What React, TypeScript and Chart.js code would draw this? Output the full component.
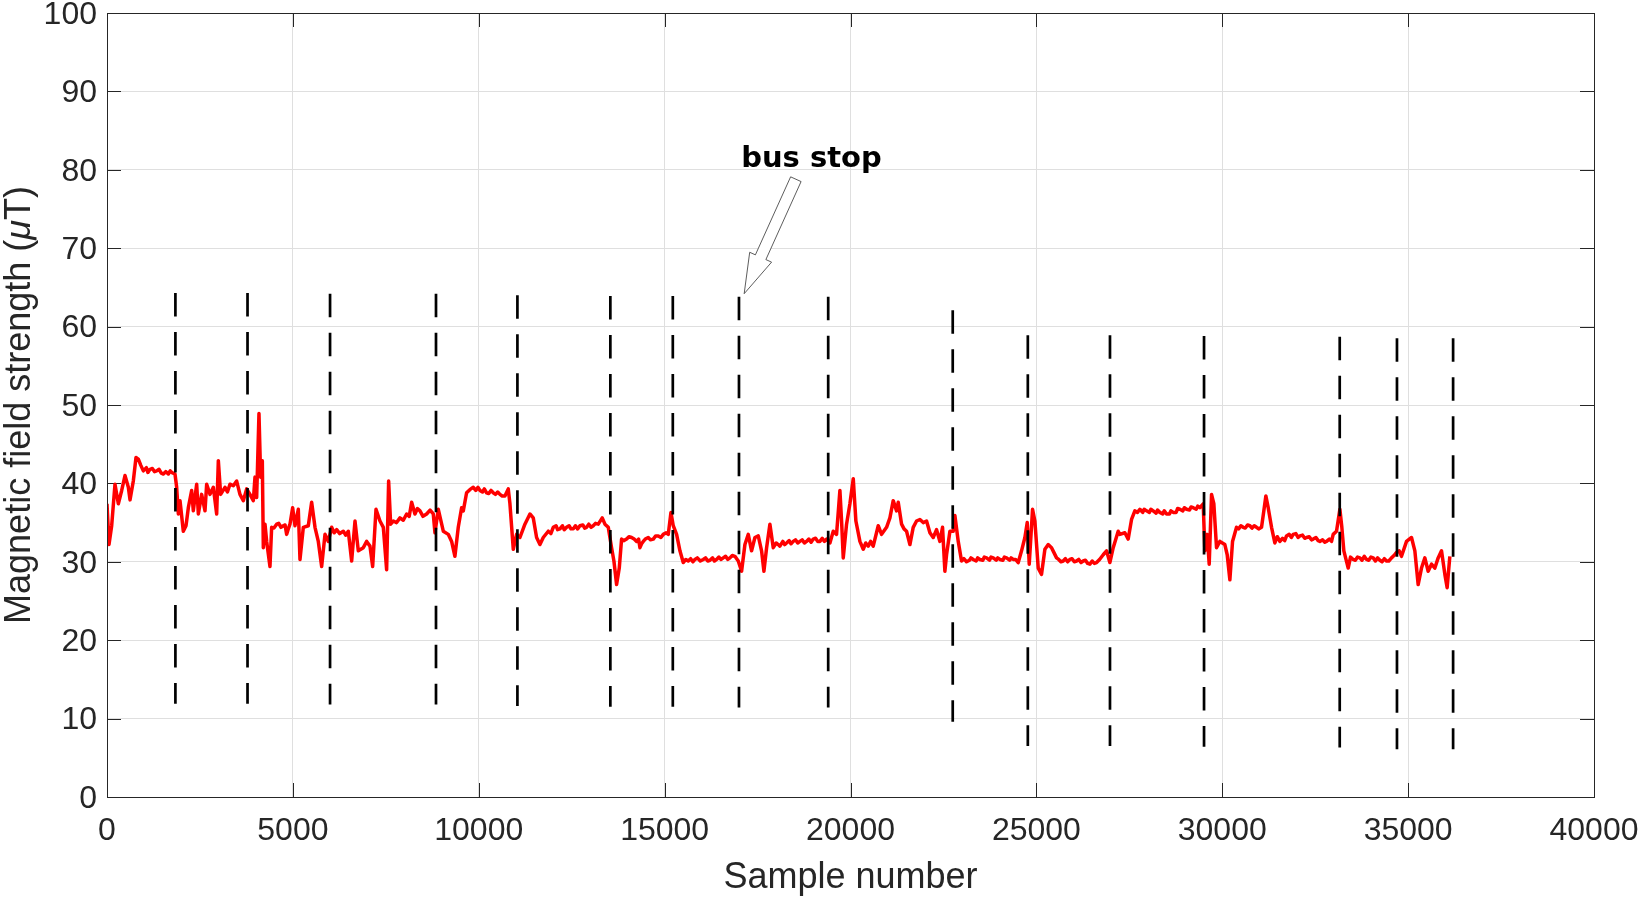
import React, { useEffect, useRef } from "react";
import { Chart, registerables } from "chart.js";

Chart.register(...registerables);

// ---- data ----
const sampleIdx: number[] = [
  0, 54, 126, 215, 305, 395, 484, 574, 619, 708, 780, 843, 910, 977, 1060, 1100, 1157, 1220, 1280, 1336, 1400, 1460, 1515, 1580, 1650, 1700, 1739, 1780, 1829,
  1874, 1919, 1964, 2053, 2125, 2188, 2277, 2322, 2412, 2457, 2546, 2636, 2681, 2771, 2860, 2950, 2995, 3057, 3174, 3240, 3308, 3398, 3488, 3577, 3667, 3757, 3846, 3936, 3981, 4026, 4088, 4133, 4178, 4205, 4250, 4295, 4384, 4429,
  4490, 4564, 4620, 4680, 4743, 4790, 4833, 4870, 4922, 4994, 5057, 5146, 5191, 5281, 5415, 5505, 5595, 5684, 5774, 5864, 5953, 6043, 6110, 6178, 6260, 6357, 6420, 6491, 6581, 6671, 6760, 6895, 6985, 7074, 7146, 7236, 7343, 7433, 7522, 7576, 7630, 7702, 7790, 7881, 7970, 8060, 8130, 8195, 8284, 8350, 8419, 8500, 8598, 8690, 8777, 8822, 8912,
  9046, 9180, 9270, 9359, 9449, 9539, 9584, 9673, 9760, 9853, 9920, 9980, 10032, 10100, 10150, 10211, 10270, 10330, 10391, 10450, 10510, 10570, 10630, 10704, 10794, 10839, 10929, 11018, 11108, 11242, 11377, 11466, 11556, 11646, 11735, 11870, 11940, 12004, 12080, 12120, 12184, 12250, 12300, 12363, 12430, 12480, 12542, 12600, 12660, 12722, 12800, 12850, 12901, 12960, 13020, 13080, 13140, 13215, 13322, 13394, 13484, 13573, 13636, 13708, 13780, 13842,
  13900, 13977, 14040, 14111, 14180, 14246, 14300, 14336, 14380, 14425, 14480, 14560, 14620, 14694, 14760, 14829, 14900, 14963, 15040, 15098, 15170, 15232, 15322, 15412, 15501, 15570, 15636, 15700, 15760, 15815, 15880, 15960, 16039, 16100, 16160, 16218, 16290, 16340, 16398, 16460, 16520, 16577, 16640, 16700, 16757, 16820, 16891, 16981, 17070, 17160, 17250, 17339, 17429, 17519, 17608, 17671, 17743, 17832, 17922, 18000, 18056,
  18101, 18180, 18230, 18280, 18350, 18400, 18460, 18520, 18580, 18639, 18700, 18760, 18818, 18880, 18940, 18998, 19060, 19120, 19177, 19240, 19300, 19356, 19446, 19536, 19625, 19715, 19760, 19805, 19894, 19984, 20074, 20145, 20253, 20343, 20410, 20477, 20540, 20611, 20746, 20836, 20970, 21060, 21149, 21239, 21284, 21374, 21440, 21508, 21598, 21687, 21777, 21867, 21956, 22046, 22136, 22225, 22315, 22405, 22476, 22539, 22584, 22674, 22763, 22808, 22898, 22987,
  23050, 23122, 23200, 23240, 23301, 23380, 23420, 23481, 23560, 23600, 23660, 23740, 23780, 23839, 23920, 23960, 24019, 24100, 24140, 24198, 24280, 24320, 24377, 24440, 24512, 24601, 24691, 24754, 24808, 24897, 24960, 25050, 25139, 25229, 25319, 25408, 25470, 25543, 25600, 25660, 25722, 25780, 25840, 25901, 25960, 26020, 26081, 26140, 26200, 26260, 26320, 26380, 26439, 26500, 26560, 26619, 26700, 26798, 26888, 26977, 27067, 27201,
  27246, 27380, 27470, 27560, 27649, 27720, 27784, 27860, 27900, 27963, 28040, 28080, 28143, 28220, 28260, 28322, 28400, 28440, 28501, 28580, 28620, 28681, 28760, 28800, 28860, 28940, 28980, 29039, 29120, 29160, 29219, 29300, 29340, 29398, 29488, 29532, 29595, 29649, 29712, 29774, 29846, 29936, 30070, 30133, 30205, 30277, 30384, 30440, 30500, 30563, 30620, 30680, 30743, 30800, 30860, 30922, 30980, 31057, 31119, 31173, 31236, 31326, 31415, 31480, 31550, 31620, 31680, 31729, 31800, 31860, 31908, 31980, 32040, 32088, 32160, 32220, 32267, 32340, 32400, 32446, 32520, 32580, 32626, 32700, 32760, 32805, 32880, 32940, 32984, 33074, 33164, 33217, 33271, 33388, 33450, 33522, 33580, 33640, 33702, 33760, 33820, 33881, 33940, 34000, 34060, 34120, 34180, 34240, 34300, 34360, 34419, 34480, 34553, 34620, 34688, 34760, 34822, 34957, 35091, 35181, 35270, 35360, 35450, 35539, 35629, 35719, 35808, 35898, 35988, 36050, 36122,
];

const fieldStrength: number[] = [
  37.4, 32.2, 34.6, 39.9, 37.4, 39.1, 41.0, 39.5, 37.9, 40.3, 43.3, 43.1, 42.3, 41.6, 42.0, 41.4, 41.8, 41.9, 41.5, 41.6, 41.8, 41.3, 41.2, 41.5, 41.2, 41.6, 41.4, 41.3, 41.2,
  39.5, 36.1, 37.8, 33.9, 34.6, 36.9, 39.1, 36.5, 39.9, 36.1, 38.6, 36.5, 39.9, 38.6, 39.5, 36.1, 42.9, 38.6, 39.5, 38.9, 39.9, 39.7, 40.3, 38.6, 37.8, 39.3, 38.6, 37.8, 40.8, 38.2, 48.9, 40.8, 42.9, 31.8, 34.8, 32.6, 29.4, 34.4,
  34.3, 34.8, 34.9, 34.4, 34.6, 34.7, 33.5, 34.1, 34.8, 36.9, 34.6, 36.7, 30.3, 34.4, 34.6, 37.6, 34.4, 32.6, 29.4, 33.5, 32.6, 34.4, 33.7, 34.1, 33.6, 33.9, 33.4, 33.9, 30.1, 35.2, 31.4, 31.8, 32.6, 32.0, 29.4, 36.7, 35.2, 34.4, 29.0, 40.3, 34.8, 35.2, 35.0, 35.6, 35.3, 36.1, 35.8, 37.6, 36.1, 36.8, 36.5, 35.8, 36.1, 36.6, 36.1, 33.7, 36.7,
  33.9, 33.5, 32.6, 30.7, 34.4, 36.9, 36.5, 38.8, 39.2, 39.5, 39.1, 39.5, 39.1, 38.9, 39.3, 38.8, 38.7, 39.1, 38.8, 38.6, 38.9, 38.6, 38.4, 38.4, 39.3, 37.4, 31.6, 33.5, 33.1, 34.8, 36.1, 35.6, 33.1, 32.2, 33.1, 33.9, 33.6, 34.4, 34.6, 34.1, 34.2, 34.6, 34.1, 34.4, 34.6, 34.2, 34.2, 34.6, 34.2, 34.6, 34.7, 34.3, 34.4, 34.8, 34.4, 34.6, 34.9, 34.8, 35.6, 34.8, 34.4, 31.8, 30.1, 27.1, 29.2, 32.9,
  32.7, 32.9, 33.2, 33.1, 32.9, 32.6, 32.9, 31.8, 32.3, 32.6, 32.9, 33.1, 32.8, 32.9, 33.3, 33.3, 33.1, 33.5, 33.7, 33.5, 36.3, 34.6, 33.5, 31.4, 29.9, 30.3, 30.1, 30.4, 30.0, 30.3, 30.5, 30.1, 30.3, 30.5, 30.1, 30.2, 30.5, 30.1, 30.3, 30.6, 30.3, 30.5, 30.7, 30.3, 30.5, 30.8, 30.7, 30.1, 28.8, 32.2, 33.5, 31.4, 33.1, 33.3, 31.4, 28.8, 31.8, 34.8, 31.8, 32.4, 32.2,
  32.0, 32.6, 32.2, 32.4, 32.7, 32.3, 32.6, 32.8, 32.4, 32.6, 32.8, 32.4, 32.6, 32.9, 32.5, 32.9, 33.0, 32.6, 32.6, 33.0, 32.6, 32.9, 32.4, 33.9, 33.5, 39.1, 35.2, 30.5, 34.8, 37.4, 40.6, 35.2, 32.6, 31.6, 32.4, 32.0, 32.6, 32.0, 34.6, 33.5, 34.4, 35.6, 37.8, 36.5, 37.6, 34.8, 34.2, 33.9, 32.2, 34.4, 35.2, 35.4, 35.0, 35.2, 33.7, 33.1, 34.1, 32.6, 34.4, 28.8, 30.9, 33.9, 33.9, 35.9, 32.6, 30.1,
  30.4, 30.0, 30.2, 30.5, 30.3, 30.1, 30.5, 30.3, 30.2, 30.6, 30.5, 30.2, 30.6, 30.5, 30.2, 30.5, 30.3, 30.2, 30.6, 30.5, 30.2, 30.5, 30.3, 30.3, 29.9, 31.4, 33.1, 35.0, 29.7, 36.7, 35.2, 29.2, 28.4, 31.6, 32.2, 31.8, 31.2, 30.5, 30.3, 30.0, 30.1, 30.4, 30.0, 30.3, 30.4, 30.0, 30.1, 30.3, 29.9, 30.1, 30.2, 29.8, 29.7, 30.1, 29.8, 29.9, 30.3, 30.9, 31.4, 29.9, 31.8, 33.9,
  33.5, 33.7, 32.9, 35.4, 36.5, 36.3, 36.7, 36.3, 36.7, 36.5, 36.3, 36.7, 36.5, 36.2, 36.6, 36.3, 36.1, 36.5, 36.1, 36.1, 36.5, 36.3, 36.3, 36.8, 36.7, 36.5, 36.9, 36.7, 36.6, 37.0, 36.9, 36.7, 37.1, 36.9, 37.4, 31.4, 33.5, 29.7, 38.6, 37.4, 31.8, 32.6, 32.2, 30.9, 27.7, 32.6, 34.4, 34.2, 34.6, 34.4, 34.3, 34.7, 34.6, 34.3, 34.6, 34.4, 34.2, 34.4, 36.5, 38.4, 36.9, 34.4, 32.4, 33.2, 32.6, 33.0, 32.7, 33.3, 33.5, 33.1, 33.5, 33.6, 33.1, 33.3, 33.4, 33.0, 33.1, 33.2, 32.8, 32.9, 33.1, 32.7, 32.6, 32.8, 32.5, 32.6, 32.9, 32.6, 33.5, 33.9, 36.7, 34.4, 31.4, 29.2, 30.6, 30.3, 30.2, 30.6, 30.5, 30.2, 30.7, 30.3, 30.2, 30.6, 30.5, 30.1, 30.5, 30.2, 30.0, 30.4, 30.1, 30.1, 30.5, 30.8, 31.2, 31.4, 30.7, 32.6, 33.1, 31.4, 27.1, 29.2, 30.5, 28.8, 29.7, 29.2, 30.5, 31.4, 28.4, 26.7, 30.7,
];

// bus stop markers (sample number, top and bottom of each dashed marker)
const stopSamples = [1840, 3780, 6000, 8850, 11040, 13540, 15220, 17000, 19400, 22750, 24770, 26980, 29510, 33160, 34700, 36210];
const stopTop = [64.3, 64.3, 64.2, 64.2, 64.0, 63.9, 63.9, 63.8, 63.8, 62.1, 58.9, 58.9, 58.8, 58.7, 58.5, 58.5];
const stopBottom = [11.9, 11.9, 11.8, 11.8, 11.6, 11.5, 11.5, 11.4, 11.4, 9.6, 6.5, 6.5, 6.4, 6.3, 6.1, 6.1];

const xTicks = [0, 5000, 10000, 15000, 20000, 25000, 30000, 35000, 40000];
const yTicks = [0, 10, 20, 30, 40, 50, 60, 70, 80, 90, 100];

const annotationText = "bus stop";
const annotationTextPos = { x: 18950, y: 80.4 };
const arrowTail = { x: 18530, y: 78.8 };
const arrowTip = { x: 17140, y: 64.2 };

const xTitle = "Sample number";
const yTitleParts = [
  { text: "Magnetic field strength (", italic: false },
  { text: "μ", italic: true },
  { text: "T)", italic: false },
];

const W = 1642;
const H = 904;
const AXIS_COLOR = "#262626";
const GRID_COLOR = "#dfdfdf";
const FONT = "'Liberation Sans', Arial, Helvetica, sans-serif";

const decorPlugin = {
  id: "decor",
  beforeDatasetsDraw(chart: any) {
    const { ctx, chartArea } = chart;
    const xs = chart.scales.x;
    const ys = chart.scales.y;
    ctx.save();
    ctx.strokeStyle = AXIS_COLOR;
    ctx.lineWidth = 1;
    const tl = 14;
    ctx.beginPath();
    for (const t of xTicks) {
      const px = Math.round(xs.getPixelForValue(t)) + 0.5;
      ctx.moveTo(px, chartArea.bottom);
      ctx.lineTo(px, chartArea.bottom - tl);
      ctx.moveTo(px, chartArea.top);
      ctx.lineTo(px, chartArea.top + tl);
    }
    for (const t of yTicks) {
      const py = Math.round(ys.getPixelForValue(t)) + 0.5;
      ctx.moveTo(chartArea.left, py);
      ctx.lineTo(chartArea.left + tl, py);
      ctx.moveTo(chartArea.right, py);
      ctx.lineTo(chartArea.right - tl, py);
    }
    ctx.stroke();
    ctx.restore();
  },
  afterDatasetsDraw(chart: any) {
    const { ctx, chartArea } = chart;
    const xs = chart.scales.x;
    const ys = chart.scales.y;
    ctx.save();
    // box
    ctx.strokeStyle = AXIS_COLOR;
    ctx.lineWidth = 1;
    ctx.strokeRect(
      Math.round(chartArea.left) + 0.5,
      Math.round(chartArea.top) + 0.5,
      Math.round(chartArea.right - chartArea.left),
      Math.round(chartArea.bottom - chartArea.top)
    );

    // block arrow
    const tip = { x: xs.getPixelForValue(arrowTip.x), y: ys.getPixelForValue(arrowTip.y) };
    const tail = { x: xs.getPixelForValue(arrowTail.x), y: ys.getPixelForValue(arrowTail.y) };
    const dx = tip.x - tail.x;
    const dy = tip.y - tail.y;
    const L = Math.hypot(dx, dy);
    const ux = dx / L, uy = dy / L;
    const nx = -uy, ny = ux;
    const headLen = 40, headW = 24, shaftW = 11.5;
    const bx = tip.x - ux * headLen, by = tip.y - uy * headLen;
    ctx.beginPath();
    ctx.moveTo(tail.x + nx * shaftW / 2, tail.y + ny * shaftW / 2);
    ctx.lineTo(bx + nx * shaftW / 2, by + ny * shaftW / 2);
    ctx.lineTo(bx + nx * headW / 2, by + ny * headW / 2);
    ctx.lineTo(tip.x, tip.y);
    ctx.lineTo(bx - nx * headW / 2, by - ny * headW / 2);
    ctx.lineTo(bx - nx * shaftW / 2, by - ny * shaftW / 2);
    ctx.lineTo(tail.x - nx * shaftW / 2, tail.y - ny * shaftW / 2);
    ctx.closePath();
    ctx.fillStyle = "#ffffff";
    ctx.fill();
    ctx.strokeStyle = "#333333";
    ctx.lineWidth = 0.8;
    ctx.stroke();

    // annotation text
    ctx.fillStyle = "#000000";
    ctx.font = "bold 29px 'DejaVu Sans', Verdana, sans-serif";
    ctx.textAlign = "center";
    ctx.textBaseline = "alphabetic";
    ctx.fillText(
      annotationText,
      xs.getPixelForValue(annotationTextPos.x),
      ys.getPixelForValue(annotationTextPos.y)
    );

    // x title
    ctx.fillStyle = AXIS_COLOR;
    ctx.font = `36px ${FONT}`;
    ctx.textAlign = "center";
    ctx.textBaseline = "middle";
    ctx.fillText(xTitle, (chartArea.left + chartArea.right) / 2, 878);

    // y title (rotated, with italic mu)
    ctx.translate(20, (chartArea.top + chartArea.bottom) / 2);
    ctx.rotate(-Math.PI / 2);
    ctx.textAlign = "left";
    ctx.textBaseline = "middle";
    const fonts = yTitleParts.map((p) => (p.italic ? `italic 36px ${FONT}` : `36px ${FONT}`));
    let total = 0;
    const widths = yTitleParts.map((p, i) => {
      ctx.font = fonts[i];
      const w = ctx.measureText(p.text).width;
      total += w;
      return w;
    });
    let cx = -total / 2;
    yTitleParts.forEach((p, i) => {
      ctx.font = fonts[i];
      ctx.fillText(p.text, cx, 0);
      cx += widths[i];
    });
    ctx.restore();
  },
};

export default function App() {
  const canvasRef = useRef<HTMLCanvasElement | null>(null);

  useEffect(() => {
    document.body.style.margin = "0";
    const canvas = canvasRef.current;
    if (!canvas) return;

    const signal = sampleIdx.map((s, i) => ({ x: s, y: fieldStrength[i] }));
    const stopSets = stopSamples.map((s, i) => ({
      label: `stop ${i + 1}`,
      data: [
        { x: s, y: stopTop[i] },
        { x: s, y: stopBottom[i] },
      ],
      borderColor: "#000000",
      borderWidth: 2.7,
      borderDash: [23.5, 15.5],
      borderCapStyle: "butt",
      pointRadius: 0,
      showLine: true,
      fill: false,
      order: 1,
    }));

    const chart = new Chart(canvas, {
      type: "scatter",
      data: {
        datasets: [
          ...stopSets,
          {
            label: "Magnetic field",
            data: signal,
            borderColor: "#ff0000",
            backgroundColor: "#ff0000",
            borderWidth: 3.5,
            borderJoinStyle: "round",
            pointRadius: 0,
            showLine: true,
            fill: false,
            tension: 0,
            order: 2,
          },
        ] as any,
      },
      options: {
        responsive: false,
        animation: false,
        events: [],
        layout: { padding: { top: 13, right: 48, left: 0, bottom: 0 } },
        plugins: {
          legend: { display: false },
          tooltip: { enabled: false },
          title: { display: false },
        },
        scales: {
          x: {
            type: "linear",
            min: 0,
            max: 40000,
            afterBuildTicks: (scale: any) => {
              scale.ticks = xTicks.map((v) => ({ value: v }));
            },
            afterFit: (scale: any) => {
              scale.height = H - 797;
              scale.paddingLeft = 0;
              scale.paddingRight = 0;
              scale.paddingTop = 0;
              scale.paddingBottom = 0;
            },
            ticks: {
              autoSkip: false,
              maxRotation: 0,
              padding: 15,
              color: AXIS_COLOR,
              font: { family: FONT, size: 32 },
              callback: (v: any) => String(v),
            },
            grid: { color: GRID_COLOR, drawTicks: false, lineWidth: 1 },
            border: { display: false },
          },
          y: {
            type: "linear",
            min: 0,
            max: 100,
            afterBuildTicks: (scale: any) => {
              scale.ticks = yTicks.map((v) => ({ value: v }));
            },
            afterFit: (scale: any) => {
              scale.width = 107;
              scale.paddingLeft = 0;
              scale.paddingRight = 0;
              scale.paddingTop = 0;
              scale.paddingBottom = 0;
            },
            ticks: {
              autoSkip: false,
              padding: 10,
              labelOffset: 2,
              color: AXIS_COLOR,
              font: { family: FONT, size: 32 },
              callback: (v: any) => String(v),
            },
            grid: { color: GRID_COLOR, drawTicks: false, lineWidth: 1 },
            border: { display: false },
          },
        },
      } as any,
      plugins: [decorPlugin],
    });

    return () => {
      chart.destroy();
    };
  }, []);

  return (
    <div style={{ position: "absolute", left: 0, top: 0, width: W, height: H, background: "#ffffff" }}>
      <canvas ref={canvasRef} width={W} height={H} style={{ display: "block", width: W, height: H }} />
    </div>
  );
}
